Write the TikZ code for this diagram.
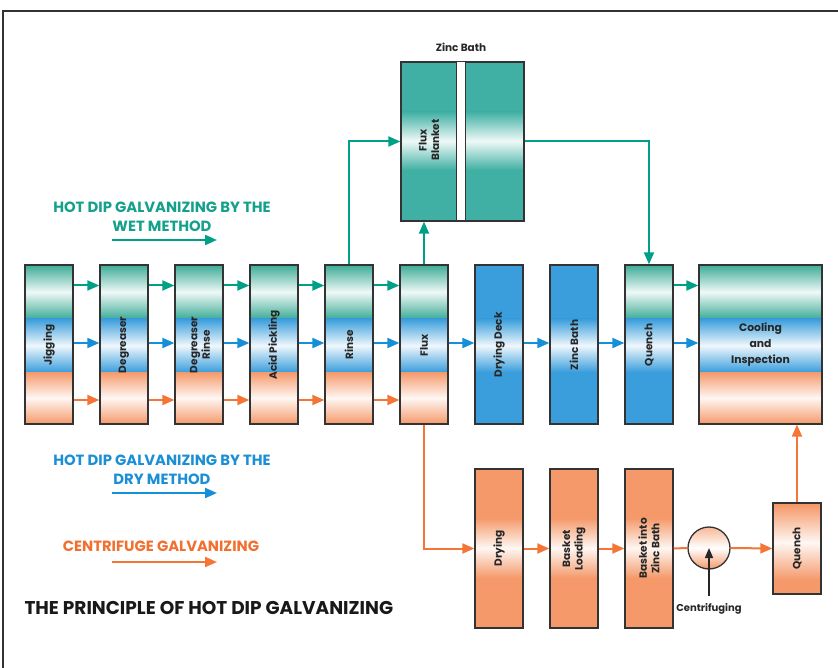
\documentclass[tikz,border=0pt]{standalone}
\usepackage{fontspec}
\setmainfont{Poppins}
\usetikzlibrary{arrows.meta}
\definecolor{gr}{HTML}{3DAC97}
\definecolor{grZ}{HTML}{41B0A4}
\definecolor{bl}{HTML}{3A9EDC}
\definecolor{orf}{HTML}{F5996A}
\definecolor{grA}{HTML}{00A088}
\definecolor{blA}{HTML}{1590D8}
\definecolor{orA}{HTML}{F47535}
\definecolor{edge}{HTML}{333333}
\definecolor{grT}{HTML}{14A08A}
\definecolor{blT}{HTML}{1A8FD6}
\definecolor{orT}{HTML}{F26F2F}
\tikzset{
  box/.style={draw=edge, line width=1.3pt, minimum width=48pt, inner sep=0pt},
  lbl/.style={rotate=90, font=\fontsize{10.5}{12.5}\selectfont\bfseries, align=center, text=black!85},
  ga/.style={draw=grA, line width=2pt, -{Triangle[length=12pt,width=10pt]}},
  ba/.style={draw=blA, line width=2pt, -{Triangle[length=12pt,width=10pt]}},
  oa/.style={draw=orA, line width=2pt, -{Triangle[length=12pt,width=10pt]}},
  head/.style={font=\fontsize{14.8}{19}\selectfont\bfseries, align=center},
  frame/.style={draw=edge, line width=1.5pt},
}
\begin{document}
\begin{tikzpicture}[x=1pt,y=-1pt]
\useasboundingbox (0,0) rectangle (838,668);
\draw[frame] (3,668) -- (3,11) -- (838,11);

% three-band boxes
\foreach \xx in {25,100,175,250,325,400}{
  \shade[top color=gr,bottom color=gr,middle color=gr!8] (\xx,265) rectangle (\xx+48,319);
  \shade[top color=bl,bottom color=bl,middle color=bl!8] (\xx,319) rectangle (\xx+48,372);
  \shade[top color=orf,bottom color=orf,middle color=orf!8] (\xx,372) rectangle (\xx+48,424);
}
% cooling
\shade[top color=gr,bottom color=gr,middle color=gr!8] (699,265) rectangle (822,319);
\shade[top color=bl,bottom color=bl,middle color=bl!8] (699,319) rectangle (822,372);
\shade[top color=orf,bottom color=orf,middle color=orf!8] (699,372) rectangle (822,424);
% drying deck and zinc bath (blue)
\foreach \xx in {475,550}{
  \fill[bl] (\xx,265) rectangle (\xx+48,424);
  \shade[top color=bl,bottom color=bl,middle color=bl!8] (\xx,319) rectangle (\xx+48,372);
}
% quench (main)
\shade[top color=gr,bottom color=gr,middle color=gr!8] (625,265) rectangle (673,319);
\fill[bl] (625,319) rectangle (673,424);
\shade[top color=bl,bottom color=bl,middle color=bl!8] (625,319) rectangle (673,372);
% zinc bath top
\fill[grZ] (401,62) rectangle (524,221);
\shade[top color=grZ,bottom color=grZ,middle color=grZ!8] (401,112) rectangle (524,170);
% bottom orange boxes
\foreach \xx in {475,550,625}{
  \fill[orf] (\xx,469) rectangle (\xx+48,628);
  \shade[top color=orf,bottom color=orf,middle color=orf!8] (\xx,518) rectangle (\xx+48,578);
}
\fill[orf] (773,503) rectangle (821,594);
\shade[top color=orf,bottom color=orf,middle color=orf!8] (773,505) rectangle (821,580);

% nodes main row
\node[box, minimum height=159pt] (jig) at (49,344.5) {};
\node[box, minimum height=159pt] (deg) at (124,344.5) {};
\node[box, minimum height=159pt] (degr) at (199,344.5) {};
\node[box, minimum height=159pt] (acid) at (274,344.5) {};
\node[box, minimum height=159pt] (rinse) at (349,344.5) {};
\node[box, minimum height=159pt] (flux) at (424,344.5) {};
\node[box, minimum height=159pt] (deck) at (499,344.5) {};
\node[box, minimum height=159pt] (zbm) at (574,344.5) {};
\node[box, minimum height=159pt] (quench) at (649,344.5) {};
\node[box, minimum width=123pt, minimum height=159pt] (cool) at (760.5,344.5) {};

\node[lbl] (jigT) at (49,345) {Jigging};
\node[lbl] (degT) at (124,345) {Degreaser};
\node[lbl] (degrT) at (200,345) {Degreaser\\Rinse};
\node[lbl] (acidT) at (274,345) {Acid Pickling};
\node[lbl] (rinseT) at (349,345) {Rinse};
\node[lbl] (fluxT) at (424,345) {Flux};
\node[lbl] (deckT) at (499,345) {Drying Deck};
\node[lbl] (zbmT) at (574,345) {Zinc Bath};
\node[lbl] (quenchT) at (649,345) {Quench};
\node[font=\fontsize{10.8}{16}\selectfont\bfseries, align=center, text=black!85] (coolT) at (760.5,345) {Cooling\\and\\Inspection};

% zinc bath top
\node[box, minimum width=123pt, minimum height=159pt] (zb) at (462.5,141.5) {};
\draw[draw=edge, line width=1pt, fill=white] (456,62) rectangle (465,221);
\node[lbl] (zbT) at (429,140) {Flux\\Blanket};
\node[font=\fontsize{10.5}{12}\selectfont\bfseries, text=black!85] (zbL) at (461,47) {Zinc Bath};

% bottom row
\node[box, minimum height=159pt] (dry) at (499,548.5) {};
\node[box, minimum height=159pt] (bask) at (574,548.5) {};
\node[box, minimum height=159pt] (bzb) at (649,548.5) {};
\node[box, minimum height=91pt] (q2) at (797,548.5) {};
\node[lbl] (dryT) at (499,548.5) {Drying};
\node[lbl] (baskT) at (574,548.5) {Basket\\Loading};
\node[lbl] (bzbT) at (649,548.5) {Basket into\\Zinc Bath};
\node[lbl] (q2T) at (797,548.5) {Quench};
\shade[top color=orf!70, bottom color=orf, middle color=white] (709,548) circle (21);
\node[circle, draw=edge, line width=1.3pt, minimum size=42pt, inner sep=0pt] (circ) at (709,548) {};
\node[font=\fontsize{10}{12}\selectfont\bfseries, text=black!85] (cent) at (709,609) {Centrifuging};
\coordinate (centTop) at (709,596);
\draw[draw=black!85, line width=1.5pt, -{Triangle[length=10pt,width=8pt]}] (centTop) -- (circ.center);

% horizontal row arrows
\coordinate (gy) at (0,285.5);
\coordinate (by) at (0,343);
\coordinate (oy) at (0,400);
\foreach \a/\b in {jig/deg,deg/degr,degr/acid,acid/rinse,rinse/flux,quench/cool}{
  \draw[ga] (\a.east |- gy) -- (\b.west |- gy);
}
\foreach \a/\b in {jig/deg,deg/degr,degr/acid,acid/rinse,rinse/flux,flux/deck,deck/zbm,zbm/quench,quench/cool}{
  \draw[ba] (\a.east |- by) -- (\b.west |- by);
}
\foreach \a/\b in {jig/deg,deg/degr,degr/acid,acid/rinse,rinse/flux}{
  \draw[oa] (\a.east |- oy) -- (\b.west |- oy);
}
% wet method via zinc bath
\draw[ga] (rinse.north) |- (zb.west);
\draw[ga] (flux.north) -- (flux.north |- zb.south);
\draw[ga] (zb.east) -| (quench.north);
% centrifuge path
\draw[oa] (flux.south) |- (dry.west);
\draw[oa] (dry) -- (bask);
\draw[oa] (bask.east) -- (bzb.west);
\draw[draw=orA, line width=2pt] (bzb.east) -- (circ.west);
\draw[oa] (circ.east) -- (q2.west);
\draw[oa] (q2.north) -- (q2.north |- cool.south);

% headings
\node[head, text=grT] (wetH) at (162,216.5) {HOT DIP GALVANIZING BY THE\\WET METHOD};
\coordinate (w1) at (112,240); \coordinate (w2) at (217,240);
\draw[ga] (w1) -- (w2);
\node[head, text=blT] (dryH) at (162,469.5) {HOT DIP GALVANIZING BY THE\\DRY METHOD};
\coordinate (d1) at (112,493); \coordinate (d2) at (217,493);
\draw[ba] (d1) -- (d2);
\node[head, text=orT] (cenH) at (161,546) {CENTRIFUGE GALVANIZING};
\coordinate (c1) at (112,562); \coordinate (c2) at (217,562);
\draw[oa] (c1) -- (c2);
\node[font=\fontsize{18.5}{21}\selectfont\bfseries, anchor=west, text=black!90] (title) at (21,608) {THE PRINCIPLE OF HOT DIP GALVANIZING};
\end{tikzpicture}
\end{document}
